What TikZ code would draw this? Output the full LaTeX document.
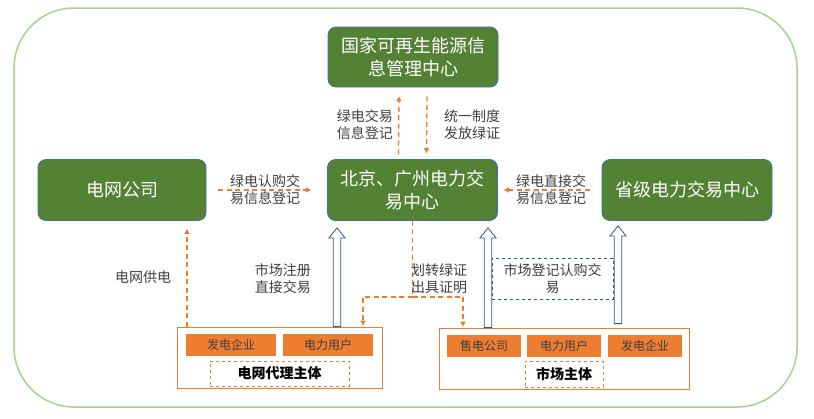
\documentclass[tikz,border=0pt]{standalone}
\usepackage{fontspec}
\setmainfont{Noto Sans CJK SC}
\usetikzlibrary{arrows.meta,calc}
\definecolor{gfill}{HTML}{548235}
\definecolor{gedge}{HTML}{41719C}
\definecolor{oran}{HTML}{ED7D31}
\definecolor{framec}{HTML}{A9D18E}
\definecolor{txt}{HTML}{404040}
\definecolor{hblue}{HTML}{2F5597}
\begin{document}
\begin{tikzpicture}[x=1pt,y=-1pt,
 gbox/.style={draw=gedge, line width=0.8pt, fill=gfill, rounded corners=8pt, text=white, font=\fontsize{18}{23}\selectfont, align=center, minimum width=170pt, minimum height=61pt, inner sep=0pt},
 lbl/.style={text=txt, font=\fontsize{14}{17}\selectfont, align=center, inner sep=0pt},
 obox/.style={fill=oran, text=txt, font=\fontsize{12}{14}\selectfont, minimum height=22pt, inner sep=0pt},
 cont/.style={draw=oran, line width=0.8pt, inner sep=0pt},
 odbox/.style={draw=oran, dashed, line width=0.8pt, inner sep=0pt, font=\fontsize{14}{16}\selectfont\bfseries, text=black},
 odash/.style={draw=oran, line width=1.3pt, dash pattern=on 5pt off 3.5pt},
 otip/.style={-{Triangle[length=5pt,width=5pt]}},
 hollow/.style={draw=hblue, fill=white, line width=0.8pt, to path={let \p1=(\tikztostart), \p2=(\tikztotarget) in (\x1-3.7pt,\y1) -- (\x1-3.7pt,\y2-10pt) -- (\x1-8pt,\y2-10pt) -- (\x1,\y2) -- (\x1+8pt,\y2-10pt) -- (\x1+3.7pt,\y2-10pt) -- (\x1+3.7pt,\y1) -- cycle}},
]
\useasboundingbox (0,0) rectangle (814,418);
\fill[white] (0,0) rectangle (814,418);
\node[draw=framec, line width=1.5pt, rounded corners=60pt, minimum width=783pt, minimum height=399pt, inner sep=0pt] (frame) at (405.5,207.5) {};

% main green boxes
\node[gbox, minimum height=60pt] (nrec) at (413,57) {国家可再生能源信\\息管理中心};
\node[gbox, minimum width=168pt] (nwg) at (122,190) {电网公司};
\node[gbox] (nbj) at (412.5,190) {北京、广州电力交\\易中心};
\node[gbox] (nsj) at (687,190) {省级电力交易中心};

% bottom containers
\node[cont, minimum width=205pt, minimum height=61pt] (nleft) at (279.5,357.5) {};
\node[cont, minimum width=250pt, minimum height=61pt] (nright) at (564,358.5) {};

\node[obox, minimum width=90pt] (lfd) at (231,345) {发电企业};
\node[obox, minimum width=90pt] (lyh) at (328,345) {电力用户};
\node[odbox, minimum width=139pt, minimum height=25pt] (ldl) at (279.5,373.5) {电网代理主体};
\node[obox, minimum width=74pt] (rsd) at (484,346) {售电公司};
\node[obox, minimum width=74pt] (ryh) at (564,346) {电力用户};
\node[obox, minimum width=74pt] (rfd) at (645,346) {发电企业};
\node[odbox, minimum width=78pt, minimum height=26pt] (rsc) at (564,374) {市场主体};

% dashed blue label box
\node[lbl, draw=hblue, dashed, line width=0.7pt, minimum width=121pt, minimum height=41pt] (ndj) at (552.5,278.5) {市场登记认购交\\易};

% orange dashed arrows
\draw[odash,otip] ([xshift=-14pt,yshift=5pt]nbj.north) -- ([xshift=-14pt,yshift=-9pt]nrec.south);
\draw[odash,otip] ([xshift=14pt,yshift=-9pt]nrec.south) -- ([xshift=14pt,yshift=6pt]nbj.north);
\draw[odash,otip] ([xshift=12pt]nwg.east) -- ([xshift=-16pt]nbj.west);
\draw[odash,otip] ([xshift=-12pt]nsj.west) -- ([xshift=6pt]nbj.east);
\draw[odash,otip] ([xshift=-92.5pt]nleft.north) -- ([xshift=65pt,yshift=-8pt]nwg.south);
\draw[odash] (nbj.south) -- ++(0,76) coordinate (split);
\draw[odash,otip] (split) -| ([xshift=83.5pt,yshift=1pt]nleft.north);
\draw[odash,otip] (split) -| ([xshift=-101pt,yshift=1pt]nright.north);

% hollow arrows
\draw[hollow] ([xshift=57.5pt]nleft.north) to ([xshift=-75.5pt,yshift=-7pt]nbj.south);
\draw[hollow] ([xshift=-76pt]nright.north) to ([xshift=75.5pt,yshift=-7pt]nbj.south);
\draw[hollow] ([xshift=54pt,yshift=4pt]nright.north) to ([xshift=-69pt,yshift=-5pt]nsj.south);

% labels
\node[lbl, anchor=east] (l1) at (393,125) {绿电交易\\信息登记};
\node[lbl, anchor=west] (l2) at (444,125) {统一制度\\发放绿证};
\node[lbl] (l3) at (265,190) {绿电认购交\\易信息登记};
\node[lbl] (l4) at (551,190) {绿电直接交\\易信息登记};
\node[lbl] (l5) at (143,277) {电网供电};
\node[lbl, anchor=east] (l6) at (311,279) {市场注册\\直接交易};
\node[lbl, anchor=west] (l7) at (411,279) {划转绿证\\出具证明};
\end{tikzpicture}
\end{document}
